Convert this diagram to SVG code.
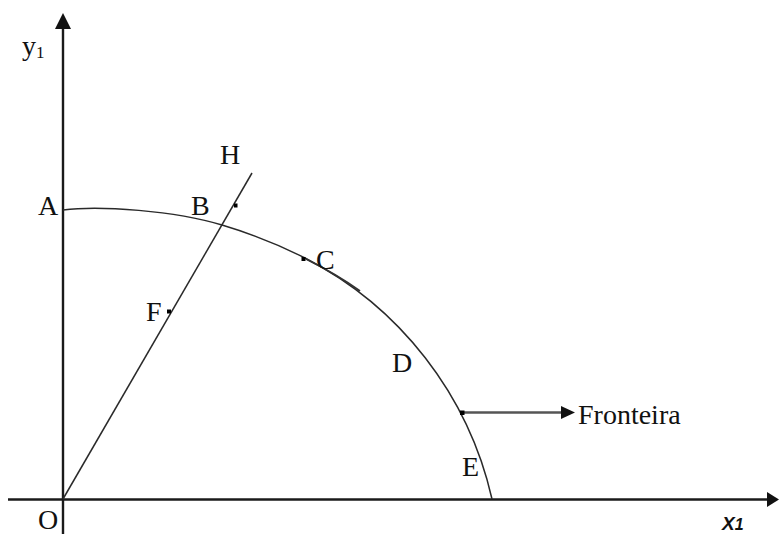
<svg xmlns="http://www.w3.org/2000/svg" width="779" height="534" viewBox="0 0 779 534">
<style>
.lbl{font-family:"Liberation Serif","Times New Roman",serif;font-size:28px;fill:#111}
.ax{stroke:#1a1a1a;stroke-width:2.4;fill:none}
.ln{stroke:#2a2a2a;stroke-width:1.5;fill:none}
.pt{fill:#000}
</style>
<rect width="779" height="534" fill="#fff"/>
<g id="connectors">
<line class="ax" x1="63" y1="534" x2="63" y2="28"/>
<path d="M55,29 L63,13 L71,29 Z" fill="#111"/>
<line class="ax" x1="8" y1="499.5" x2="768" y2="499.5"/>
<path d="M767,492 L779,499.5 L767,507 Z" fill="#111"/>
<line class="ln" x1="63" y1="499" x2="252" y2="173"/>
<path class="ln" d="M63,210 C100,205 175,211 222,225 C249.7,233.3 280,245.2 305,258 A361,361 0 0 1 492,499"/>
<path d="M306,259 C325,268.5 345,280 360,291" stroke="#333" stroke-width="1.8" fill="none"/>
<line x1="463" y1="412.5" x2="562" y2="412.5" stroke="#555" stroke-width="2.5"/>
<path d="M561,406 L575,412.5 L561,419 Z" fill="#111"/>
</g>
<g id="node-y1"><text class="lbl" x="22" y="55">y<tspan font-size="17" dy="3">1</tspan></text></g>
<g id="node-x1"><text x="722" y="530" font-family="Liberation Sans, Arial, sans-serif" font-weight="bold" font-style="italic" font-size="19" fill="#111">X<tspan font-size="16">1</tspan></text></g>
<g id="node-O"><text class="lbl" x="38" y="529">O</text></g>
<g id="node-A"><text class="lbl" x="38" y="215">A</text></g>
<g id="node-B"><text class="lbl" x="191" y="215">B</text></g>
<g id="node-H"><rect class="pt" x="234" y="203.5" width="3.5" height="4"/><text class="lbl" x="220" y="164">H</text></g>
<g id="node-C"><rect class="pt" x="301.5" y="257" width="4" height="4"/><text class="lbl" x="316" y="269">C</text></g>
<g id="node-F"><rect class="pt" x="167" y="309.5" width="4" height="4"/><text class="lbl" x="146" y="320.5">F</text></g>
<g id="node-D"><text class="lbl" x="392" y="372">D</text></g>
<g id="node-E"><text class="lbl" x="462" y="476">E</text></g>
<g id="node-Fronteira"><rect class="pt" x="460" y="410.5" width="4.5" height="4.5"/><text class="lbl" x="578" y="424">Fronteira</text></g>
</svg>
